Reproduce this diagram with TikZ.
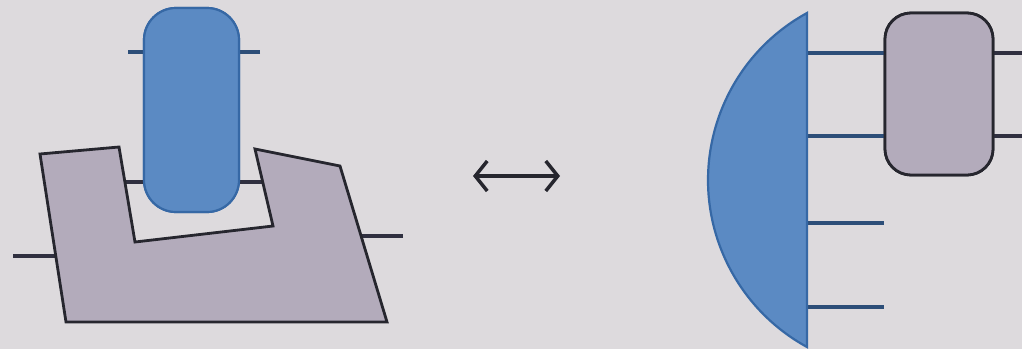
\documentclass[tikz,border=0pt]{standalone}
\usetikzlibrary{arrows.meta}
\definecolor{bg}{HTML}{DDDADD}
\definecolor{bluefill}{HTML}{5B8AC3}
\definecolor{blueline}{HTML}{3668A5}
\definecolor{grayfill}{HTML}{B3ABBB}
\definecolor{darkline}{HTML}{26262E}
\definecolor{blueleg}{HTML}{2D4E78}
\definecolor{darkleg}{HTML}{303040}
\begin{document}
\begin{tikzpicture}[x=1pt,y=-1pt,
  bluebox/.style={draw=blueline, fill=bluefill, line width=2.2pt, rounded corners=32pt,
    minimum width=95pt, minimum height=204pt, inner sep=0pt},
  graybox/.style={draw=darkline, fill=grayfill, line width=2.8pt, rounded corners=26pt,
    minimum width=108pt, minimum height=162pt, inner sep=0pt},
  bleg/.style={draw=blueleg, line width=3.3pt},
  dleg/.style={draw=darkleg, line width=3.3pt},
  grayshape/.style={draw=darkline, fill=grayfill, line width=2.8pt, line join=miter},
  blueshape/.style={draw=blueline, fill=bluefill, line width=2.2pt},
  arr/.style={draw=darkline, line width=3.5pt,
    {Straight Barb[length=12pt,width=30pt]}-{Straight Barb[length=12pt,width=30pt]}}]
\useasboundingbox (0,0) rectangle (1022,349);
\fill[bg] (0,0) rectangle (1022,349);

% ---------- left figure ----------
\coordinate (ul) at (128,52);
\coordinate (ur) at (260,52);
\coordinate (ll) at (125,182);
\coordinate (lr) at (263,182);
\coordinate (pl) at (13,256);
\coordinate (ple) at (57,256);
\coordinate (pr) at (403,236);
\coordinate (pre) at (361,236);
\node[bluebox] (bb) at (191.5,110) {};
\draw[bleg] (ul) -- (ul -| bb.west);
\draw[bleg] (ur) -- (ur -| bb.east);
\draw[dleg] (ll) -- (ll -| bb.west);
\draw[dleg] (lr) -- (lr -| bb.east);
\node[bluebox] at (bb) {};
\draw[dleg] (pl) -- (ple);
\draw[dleg] (pr) -- (pre);
\draw[grayshape] (40,154) -- (119,147) -- (135,242) -- (273,226) -- (255,149)
  -- (340,166) -- (387,322) -- (66,322) -- cycle;

% ---------- arrow ----------
\coordinate (aL) at (473,176);
\coordinate (aR) at (560,176);
\draw[arr] (aL) -- (aR);

% ---------- right figure ----------
\node[graybox] (gb) at (939,94) {};
\coordinate (d1) at (807,53);
\coordinate (d2) at (807,136);
\coordinate (d3) at (807,223);
\coordinate (d4) at (807,307);
\coordinate (d3e) at (884,223);
\coordinate (d4e) at (884,307);
\coordinate (e1) at (1024,53);
\coordinate (e2) at (1024,136);
\draw[bleg] (d1) -- (d1 -| gb.west);
\draw[bleg] (d2) -- (d2 -| gb.west);
\draw[bleg] (d3) -- (d3e);
\draw[bleg] (d4) -- (d4e);
\draw[dleg] (e1 -| gb.east) -- (e1);
\draw[dleg] (e2 -| gb.east) -- (e2);
\node[graybox] at (gb) {};
\draw[blueshape] (807,13) arc[start angle=-118.7, end angle=-241.3, radius=190.4] -- cycle;
\end{tikzpicture}
\end{document}
